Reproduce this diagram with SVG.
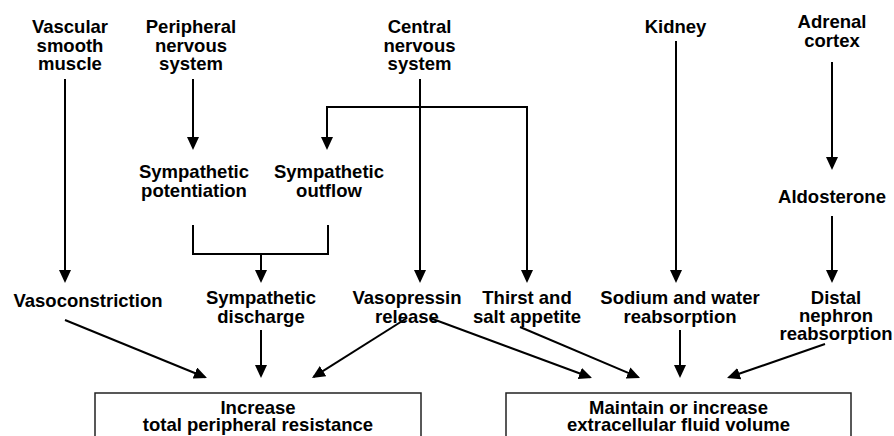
<svg xmlns="http://www.w3.org/2000/svg" width="894" height="436" viewBox="0 0 894 436">
<style>
text{font-family:"Liberation Sans",Arial,sans-serif;font-weight:bold;font-size:18.5px;fill:#000;text-anchor:middle}
.c{fill:none;stroke:#000;stroke-width:2}
.a{marker-end:url(#ah)}
.box{fill:#fff;stroke:#222;stroke-width:1.5}
</style>
<defs>
<marker id="ah" markerUnits="userSpaceOnUse" markerWidth="14" markerHeight="14" refX="11" refY="6" orient="auto">
<path d="M0,0 L13,6 L0,12 z" fill="#000"/>
</marker>
</defs>
<g id="connectors">
<path class="c a" d="M65,79 V281"/>
<path class="c a" d="M193,79 V148"/>
<path class="c a" d="M420,79 V281"/>
<path class="c a" d="M420,107 H327 V148"/>
<path class="c a" d="M420,107 H527 V281"/>
<path class="c" d="M193,225 V254 H328 V225"/>
<path class="c a" d="M261,254 V281"/>
<path class="c a" d="M676,41 V281"/>
<path class="c a" d="M832,62 V168"/>
<path class="c a" d="M832,216 V281"/>
<path class="c a" d="M65,320 L205.1,377.2"/>
<path class="c a" d="M261,330 V376"/>
<path class="c a" d="M407,318 L313.7,376.9"/>
<path class="c a" d="M430,318 L590.1,377.3"/>
<path class="c a" d="M520,327 L638.2,377.2"/>
<path class="c a" d="M680,330 V376"/>
<path class="c a" d="M825,344 L728.9,377.3"/>
</g>
<g id="vascular"><text x="70" y="33">Vascular</text><text x="70" y="51.5">smooth</text><text x="70" y="70">muscle</text></g>
<g id="pns"><text x="191" y="33">Peripheral</text><text x="191" y="51.5">nervous</text><text x="191" y="70">system</text></g>
<g id="cns"><text x="419.5" y="33">Central</text><text x="419.5" y="51.5">nervous</text><text x="419.5" y="70">system</text></g>
<g id="kidney"><text x="675.5" y="33">Kidney</text></g>
<g id="adrenal"><text x="832" y="28">Adrenal</text><text x="832" y="46.5">cortex</text></g>
<g id="sympot"><text x="194" y="178">Sympathetic</text><text x="194" y="196.5">potentiation</text></g>
<g id="symout"><text x="329" y="178">Sympathetic</text><text x="329" y="196.5">outflow</text></g>
<g id="aldosterone"><text x="832" y="203">Aldosterone</text></g>
<g id="vasoconstriction"><text x="88" y="307">Vasoconstriction</text></g>
<g id="symdis"><text x="261" y="304">Sympathetic</text><text x="261" y="322.5">discharge</text></g>
<g id="vasopressin"><text x="407" y="304">Vasopressin</text><text x="407" y="322.5">release</text></g>
<g id="thirst"><text x="527" y="304">Thirst and</text><text x="527" y="322.5">salt appetite</text></g>
<g id="sodium"><text x="680" y="304">Sodium and water</text><text x="680" y="322.5">reabsorption</text></g>
<g id="distal"><text x="836" y="304">Distal</text><text x="836" y="322">nephron</text><text x="836" y="340">reabsorption</text></g>
<g id="tpr"><rect class="box" x="95" y="393" width="326" height="60"/><text x="258" y="414">Increase</text><text x="258" y="431">total peripheral resistance</text></g>
<g id="ecf"><rect class="box" x="506" y="393" width="345" height="60"/><text x="678.5" y="414">Maintain or increase</text><text x="678.5" y="431">extracellular fluid volume</text></g>
</svg>
